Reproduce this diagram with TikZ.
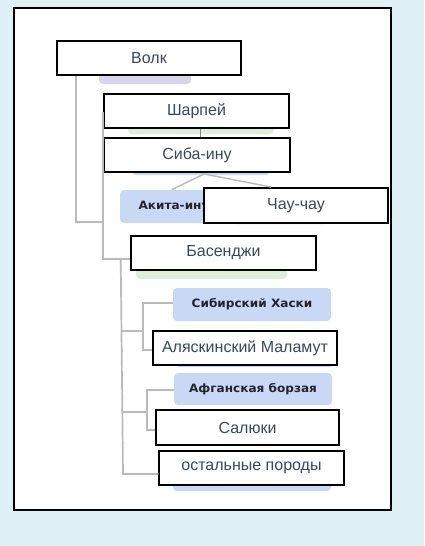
\documentclass[tikz,border=0pt]{standalone}
\usepackage{fontspec}
\setmainfont{Liberation Sans}
\newfontfamily\boldf[FakeStretch=1.05]{DejaVu Sans}
\definecolor{bgblue}{HTML}{DFF0F7}
\definecolor{txt}{HTML}{38495C}
\definecolor{dk}{HTML}{22242F}
\definecolor{lnc}{HTML}{BABABA}
\definecolor{lnd}{HTML}{8A8A8A}
\definecolor{pbox}{HTML}{D9D4EB}
\definecolor{gbox}{HTML}{DDEFD9}
\definecolor{bbox}{HTML}{C9D9F5}
\tikzset{
  lab/.style={draw=black, line width=1.2pt, fill=white, text=txt,
    font=\fontsize{16}{19}\selectfont, inner sep=0pt, minimum height=34pt},
  soft/.style={fill=#1, rounded corners=4pt, inner sep=0pt, minimum height=33pt,
    text=dk, font=\boldf\bfseries\fontsize{11.5}{13}\selectfont},
  conn/.style={draw=lnc, line width=1.7pt},
  thinconn/.style={draw=lnc, line width=1.4pt},
}
\begin{document}
\begin{tikzpicture}[x=1pt,y=-1pt]
\useasboundingbox (0,0) rectangle (424,546);
\fill[bgblue] (0,0) rectangle (424,546);
\draw[line width=1.2pt, fill=white] (14,8) rectangle (391,510);

% soft (blurred) boxes of the underlying tree
\node[soft=pbox, minimum width=92pt, minimum height=34pt] (volkbg) at (145,67) {};
\node[soft=gbox, minimum width=146pt] (sharpeibg) at (201,117.5) {};
\node[soft=bbox, minimum width=138pt] (shibabg) at (201,158.5) {};
\node[soft=bbox, minimum width=108pt] (akita) at (174,206.5) {Акита-ину};
\node[soft=bbox, minimum width=94pt, minimum height=34pt] (chowbg) at (280,207) {};
\node[soft=gbox, minimum width=151pt] (basenjibg) at (211.5,262.5) {};
\node[soft=bbox, minimum width=158pt] (husky) at (252,304.5) {Сибирский Хаски};
\node[soft=bbox, minimum width=159pt] (malbg) at (254.5,350.5) {};
\node[soft=bbox, minimum width=158pt, minimum height=32pt] (afghan) at (253,389) {Афганская борзая};
\node[soft=bbox, minimum width=158pt] (othersbg) at (252,474.5) {};

% overlay label boxes
\node[lab, minimum width=184pt] (volk) at (149,58) {Волк};
\node[lab, minimum width=185pt] (sharpei) at (196.5,111) {Шарпей};
\node[lab, minimum width=186pt] (shiba) at (197,155) {Сиба-ину};
\node[lab, minimum width=184pt, minimum height=35pt] (chow) at (296,205.5) {Чау-чау};
\node[lab, minimum width=185pt] (basenji) at (223.5,253) {Басенджи};
\node[lab, minimum width=184pt] (malamute) at (245,348) {Аляскинский Маламут};
\node[lab, minimum width=183pt, minimum height=35pt] (saluki) at (247.5,427.5) {Салюки};
\node[lab, minimum width=185pt] (others) at (251.5,468) {остальные породы};

% junction coordinates
\coordinate (v1top) at (76,75);
\coordinate (v1bot) at (76,222);
\coordinate (j1) at (103,222);
\coordinate (v2top) at (103,113);
\coordinate (v2bot) at (103,259);
\coordinate (s1) at (200,130);
\coordinate (sb) at (204,174);
\coordinate (ak) at (172,189.5);
\coordinate (ch) at (271,187);
\coordinate (v3top) at (120.7,259);
\coordinate (v3bot) at (123,474);
\coordinate (h1) at (121.2,331);
\coordinate (b1) at (143,331);
\coordinate (b1t) at (143,303);
\coordinate (b1b) at (143,350);
\coordinate (h2) at (122.5,411.7);
\coordinate (b2) at (147,411.7);
\coordinate (b2t) at (147,390);
\coordinate (b2b) at (147,430);

% connectors
\draw[conn] (volk.south -| v1top) -- (v1bot) -- (j1);
\draw[conn] (v2top -| sharpei.west) -- (v2top) -- (v2bot) -- (v2bot -| basenji.west);
\draw[draw=lnd, line width=1pt] (sharpei.south -| s1) -- (shiba.north -| s1);
\draw[thinconn] (ak) -- (sb) -- (ch);
\draw[conn] (v3top) -- (v3bot) -- (v3bot -| others.west);
\draw[conn] (h1) -- (b1);
\draw[conn] (b1t -| husky.west) -- (b1t) -- (b1b) -- (b1b -| malamute.west);
\draw[conn] (h2) -- (b2);
\draw[conn] (b2t -| afghan.west) -- (b2t) -- (b2b) -- (b2b -| saluki.west);
\end{tikzpicture}
\end{document}
